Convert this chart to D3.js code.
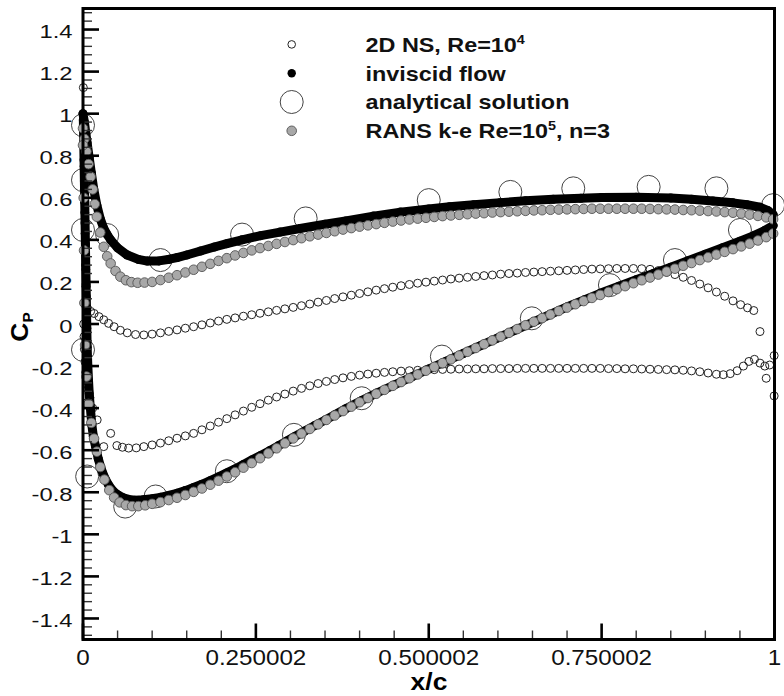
<!DOCTYPE html>
<html><head><meta charset="utf-8">
<script src="https://cdn.jsdelivr.net/npm/d3@7"></script>
<style>body{margin:0;background:#fff}svg{display:block}</style>
</head><body><svg id="c" width="784" height="696"></svg>
<script>
// ---------------- data ----------------
const xTicks = [0, 0.25, 0.5, 0.75, 1];
const xTickLabels = ["0", "0.250002", "0.500002", "0.750002", "1"];
const yTicks = [1.4, 1.2, 1, 0.8, 0.6, 0.4, 0.2, 0, -0.2, -0.4, -0.6, -0.8, -1, -1.2, -1.4];
const yTickLabels = ["1.4", "1.2", "1", "0.8", "0.6", "0.4", "0.2", "0", "-0.2", "-0.4", "-0.6", "-0.8", "-1", "-1.2", "-1.4"];
const seriesNames = ["2D NS, Re=10|4", "inviscid flow", "analytical solution", "RANS k-e Re=10|5|, n=3"];

// 2D NS, Re=1e4 : [x/c, Cp]
const nsUpper = [[0.0005,1.124],[0.001,0.97],[0.0012,0.86],[0.0015,0.75],[0.002,0.64],[0.0025,0.53],[0.003,0.43],[0.0035,0.34],[0.004,0.26],[0.0045,0.19],[0.005,0.13],[0.006,0.075],[0.011,0.06],[0.016,0.05],[0.023,0.035],[0.030,0.02],[0.037,0.003],[0.045,-0.013],[0.054,-0.03],[0.064,-0.042],[0.076,-0.05],[0.088,-0.052],
[0.100,-0.048],[0.112,-0.042],[0.124,-0.035],[0.136,-0.028],[0.148,-0.020],[0.160,-0.013],[0.172,-0.004],[0.184,0.005],[0.196,0.014],[0.208,0.022],[0.220,0.029],[0.232,0.037],[0.244,0.044],[0.256,0.051],[0.268,0.058],[0.280,0.065],[0.292,0.072],[0.304,0.079],[0.316,0.087],[0.328,0.095],[0.340,0.104],[0.352,0.112],[0.364,0.121],[0.376,0.129],[0.388,0.137],[0.400,0.145],[0.412,0.153],[0.424,0.161],[0.436,0.168],[0.448,0.175],[0.460,0.182],[0.472,0.188],[0.484,0.194],[0.496,0.199],[0.508,0.204],[0.520,0.209],[0.532,0.214],[0.544,0.218],[0.556,0.222],[0.568,0.226],[0.580,0.230],[0.592,0.233],[0.604,0.237],[0.616,0.240],[0.628,0.242],[0.640,0.245],[0.652,0.247],[0.664,0.249],[0.676,0.251],[0.688,0.253],[0.700,0.255],[0.712,0.257],[0.724,0.259],[0.736,0.261],[0.748,0.262],[0.760,0.263],[0.772,0.264],[0.784,0.264],[0.796,0.264],[0.808,0.263],[0.820,0.260],[0.832,0.254],[0.844,0.246],[0.856,0.235],[0.868,0.222],[0.880,0.207],[0.892,0.190],[0.904,0.172],[0.916,0.152],[0.928,0.132],[0.940,0.110],[0.951,0.092],[0.961,0.077],[0.970,0.064],[0.979,-0.036]];
const nsLower = [[0.001,0.0],[0.0015,-0.06],[0.002,-0.12],[0.003,-0.18],[0.004,-0.23],[0.005,-0.27],[0.007,-0.31],[0.010,-0.35],[0.014,-0.40],[0.0205,-0.456],[0.040,-0.52],[0.030,-0.583],[0.049,-0.578],[0.057,-0.586],[0.066,-0.59],[0.077,-0.589],[0.088,-0.583],
[0.100,-0.575],[0.112,-0.566],[0.124,-0.555],[0.136,-0.543],[0.148,-0.532],[0.160,-0.520],[0.172,-0.503],[0.184,-0.485],[0.196,-0.467],[0.208,-0.450],[0.220,-0.432],[0.232,-0.414],[0.244,-0.396],[0.256,-0.379],[0.268,-0.362],[0.280,-0.347],[0.292,-0.333],[0.304,-0.319],[0.316,-0.306],[0.328,-0.294],[0.340,-0.283],[0.352,-0.273],[0.364,-0.264],[0.376,-0.256],[0.388,-0.249],[0.400,-0.243],[0.412,-0.238],[0.424,-0.234],[0.436,-0.230],[0.448,-0.227],[0.460,-0.224],[0.472,-0.222],[0.484,-0.220],[0.496,-0.218],[0.508,-0.217],[0.520,-0.216],[0.532,-0.215],[0.544,-0.214],[0.556,-0.214],[0.568,-0.213],[0.580,-0.213],[0.592,-0.212],[0.604,-0.212],[0.616,-0.212],[0.628,-0.211],[0.640,-0.211],[0.652,-0.211],[0.664,-0.211],[0.676,-0.211],[0.688,-0.211],[0.700,-0.211],[0.712,-0.211],[0.724,-0.211],[0.736,-0.211],[0.748,-0.211],[0.760,-0.212],[0.772,-0.212],[0.784,-0.213],[0.796,-0.213],[0.808,-0.214],[0.820,-0.215],[0.832,-0.216],[0.844,-0.217],[0.856,-0.218],[0.868,-0.220],[0.880,-0.223],[0.892,-0.227],[0.904,-0.233],[0.916,-0.239],[0.926,-0.241],[0.936,-0.236],[0.946,-0.222],[0.955,-0.200],[0.963,-0.178],[0.971,-0.168],[0.979,-0.186],[0.986,-0.200],[0.993,-0.195],[0.9995,-0.150],[0.988,-0.258],[0.9995,-0.342]];

// inviscid flow
const invUpper = [[0.0,1.0],[0.002,0.96],[0.004,0.91],[0.006,0.86],[0.009,0.79],[0.012,0.72],[0.0156,0.64],[0.02,0.565],[0.025,0.5],[0.03,0.455],[0.035,0.425],[0.04,0.4],[0.05,0.362],[0.064,0.328],[0.08,0.307],[0.093,0.299],[0.11,0.3],[0.125,0.308],[0.136,0.316],[0.15,0.328],[0.17,0.347],[0.19,0.366],[0.208,0.382],[0.23,0.4],[0.257,0.42],[0.285,0.437],[0.314,0.454],[0.35,0.474],[0.38,0.49],[0.42,0.513],[0.459,0.532],[0.5,0.547],[0.53,0.557],[0.565,0.567],[0.603,0.577],[0.64,0.586],[0.68,0.593],[0.72,0.598],[0.75,0.601],[0.8,0.603],[0.85,0.599],[0.88,0.593],[0.911,0.585],[0.94,0.576],[0.96,0.567],[0.979,0.555],[0.99,0.54],[0.998,0.52]];
const invLower = [[0.0005,0.97],[0.001,0.88],[0.0015,0.78],[0.002,0.68],[0.0025,0.58],[0.003,0.48],[0.0035,0.38],[0.004,0.28],[0.0045,0.18],[0.005,0.08],[0.0055,-0.02],[0.006,-0.11],[0.007,-0.2],[0.008,-0.27],[0.009,-0.33],[0.0104,-0.39],[0.0128,-0.48],[0.015,-0.535],[0.018,-0.58],[0.022,-0.64],[0.027,-0.695],[0.032,-0.735],[0.037,-0.765],[0.043,-0.792],[0.05,-0.812],[0.058,-0.826],[0.066,-0.834],[0.075,-0.838],[0.087,-0.836],[0.1,-0.831],[0.112,-0.824],[0.124,-0.815],[0.136,-0.805],[0.148,-0.792],[0.16,-0.777],[0.172,-0.762],[0.184,-0.745],[0.196,-0.727],[0.208,-0.708],[0.22,-0.689],[0.232,-0.668],[0.244,-0.647],[0.257,-0.625],[0.27,-0.602],[0.283,-0.578],[0.295,-0.556],[0.305,-0.537],[0.32,-0.51],[0.335,-0.483],[0.35,-0.457],[0.365,-0.43],[0.38,-0.403],[0.403,-0.364],[0.425,-0.328],[0.45,-0.29],[0.475,-0.252],[0.5,-0.214],[0.525,-0.177],[0.55,-0.14],[0.575,-0.103],[0.6,-0.066],[0.625,-0.029],[0.651,0.009],[0.675,0.045],[0.7,0.081],[0.725,0.115],[0.748,0.146],[0.775,0.18],[0.8,0.21],[0.825,0.24],[0.85,0.27],[0.875,0.301],[0.9,0.332],[0.925,0.363],[0.95,0.394],[0.97,0.42],[0.985,0.443],[0.998,0.468]];

// analytical solution
const anaUpper = [[0.0,0.945],[0.0,0.684],[0.0,0.447],[0.035,0.423],[0.112,0.304],[0.23,0.425],[0.322,0.502],[0.5,0.589],[0.618,0.628],[0.709,0.645],[0.818,0.652],[0.916,0.645],[0.998,0.565]];
const anaLower = [[0.0,-0.123],[0.006,-0.725],[0.061,-0.868],[0.105,-0.82],[0.208,-0.70],[0.305,-0.527],[0.403,-0.353],[0.519,-0.155],[0.649,0.027],[0.762,0.185],[0.856,0.304],[0.95,0.447]];

// RANS k-e, Re=1e5, n=3
const ransUpper = [[0.0,0.93],[0.002,0.88],[0.005,0.82],[0.008,0.76],[0.011,0.70],[0.014,0.64],[0.017,0.57],[0.02,0.51],[0.025,0.435],[0.03,0.367],[0.035,0.322],[0.04,0.288],[0.047,0.252],[0.054,0.225],[0.062,0.208],[0.07,0.199],[0.079,0.196],[0.089,0.197],
[0.100,0.200],[0.112,0.209],[0.124,0.220],[0.136,0.232],[0.148,0.245],[0.160,0.258],[0.172,0.272],[0.184,0.286],[0.196,0.300],[0.208,0.313],[0.220,0.326],[0.232,0.338],[0.244,0.350],[0.256,0.361],[0.268,0.371],[0.280,0.381],[0.292,0.390],[0.304,0.399],[0.316,0.408],[0.328,0.417],[0.340,0.425],[0.352,0.433],[0.364,0.441],[0.376,0.449],[0.388,0.456],[0.400,0.463],[0.412,0.469],[0.424,0.475],[0.436,0.481],[0.448,0.487],[0.460,0.492],[0.472,0.497],[0.484,0.501],[0.496,0.505],[0.508,0.509],[0.520,0.513],[0.532,0.516],[0.544,0.519],[0.556,0.522],[0.568,0.525],[0.580,0.527],[0.592,0.530],[0.604,0.532],[0.616,0.534],[0.628,0.536],[0.640,0.538],[0.652,0.540],[0.664,0.541],[0.676,0.543],[0.688,0.544],[0.700,0.545],[0.712,0.546],[0.724,0.547],[0.736,0.548],[0.748,0.548],[0.760,0.548],[0.772,0.548],[0.784,0.548],[0.796,0.548],[0.808,0.548],[0.820,0.547],[0.832,0.546],[0.844,0.545],[0.856,0.544],[0.868,0.542],[0.880,0.541],[0.892,0.539],[0.904,0.537],[0.916,0.535],[0.928,0.532],[0.940,0.529],[0.952,0.525],[0.964,0.520],[0.976,0.514],[0.988,0.507],[0.998,0.498]];
const ransLower = [[0.0,0.85],[0.001,0.6],[0.0015,0.35],[0.002,0.1],[0.003,-0.1],[0.005,-0.25],[0.008,-0.38],[0.012,-0.47],[0.016,-0.545],[0.02,-0.607],[0.025,-0.68],[0.031,-0.74],[0.038,-0.79],[0.045,-0.825],[0.053,-0.848],[0.062,-0.861],[0.071,-0.866],[0.08,-0.866],[0.09,-0.862],
[0.100,-0.855],[0.112,-0.847],[0.124,-0.837],[0.136,-0.826],[0.148,-0.813],[0.160,-0.798],[0.172,-0.782],[0.184,-0.764],[0.196,-0.745],[0.208,-0.725],[0.220,-0.705],[0.232,-0.683],[0.244,-0.661],[0.256,-0.638],[0.268,-0.615],[0.280,-0.591],[0.292,-0.567],[0.304,-0.544],[0.316,-0.521],[0.328,-0.499],[0.340,-0.477],[0.352,-0.456],[0.364,-0.435],[0.376,-0.414],[0.388,-0.393],[0.400,-0.372],[0.412,-0.352],[0.424,-0.332],[0.436,-0.313],[0.448,-0.294],[0.460,-0.276],[0.472,-0.258],[0.484,-0.240],[0.496,-0.222],[0.508,-0.204],[0.520,-0.186],[0.532,-0.168],[0.544,-0.150],[0.556,-0.132],[0.568,-0.114],[0.580,-0.096],[0.592,-0.078],[0.604,-0.060],[0.616,-0.042],[0.628,-0.024],[0.640,-0.006],[0.652,0.011],[0.664,0.028],[0.676,0.045],[0.688,0.062],[0.700,0.078],[0.712,0.094],[0.724,0.109],[0.736,0.124],[0.748,0.138],[0.760,0.152],[0.772,0.166],[0.784,0.180],[0.796,0.194],[0.808,0.208],[0.820,0.221],[0.832,0.235],[0.844,0.249],[0.856,0.263],[0.868,0.277],[0.880,0.290],[0.892,0.304],[0.904,0.317],[0.916,0.330],[0.928,0.343],[0.940,0.356],[0.952,0.369],[0.964,0.382],[0.976,0.397],[0.988,0.413],[0.998,0.430]];

// ---------------- drawing ----------------
const svg = d3.select("#c");
const FONT = "'Liberation Sans', Arial, Helvetica, sans-serif";
const x = d3.scaleLinear().domain([0, 1]).range([83, 774.5]);
const y = d3.scaleLinear().domain([-1.5, 1.5]).range([639.5, 8.5]);

const gData = svg.append("g");
function dots(data, r, fill, stroke, sw) {
  gData.append("g").selectAll("circle").data(data).join("circle")
    .attr("cx", d => x(d[0])).attr("cy", d => y(d[1])).attr("r", r)
    .attr("fill", fill).attr("stroke", stroke).attr("stroke-width", sw);
}
// analytical (large open)
dots(anaUpper.concat(anaLower), 11.5, "none", "#444", 1);
// 2D NS (small open)
dots(nsUpper.concat(nsLower), 4, "none", "#222", 1);
// inviscid (dense black markers)
const line = d3.line().x(d => x(d[0])).y(d => y(d[1]));
[invUpper, invLower].forEach(s => {
  gData.append("path").attr("d", line(s)).attr("fill", "none")
    .attr("stroke", "#000").attr("stroke-width", 9)
    .attr("stroke-linecap", "round").attr("stroke-linejoin", "round");
});
dots(invUpper.concat(invLower), 4.5, "#000", "none", 0);
// RANS (gray filled)
dots(ransUpper.concat(ransLower), 4.8, "#a8a8a8", "#555", 0.9);

// ---------------- axes ----------------
const gAx = svg.append("g");
const yMinor = d3.range(-37, 38).map(k => k * 0.04).filter(v => Math.abs(v / 0.2 - Math.round(v / 0.2)) > 1e-6);
const xMinor = d3.range(1, 20).map(k => k * 0.05).filter(v => Math.abs(v / 0.25 - Math.round(v / 0.25)) > 1e-6);
const x0 = x(0), yb = y(-1.5);
gAx.selectAll(".ymn").data(yMinor).join("line")
  .attr("x1", x0).attr("x2", x0 + 9).attr("y1", d => y(d)).attr("y2", d => y(d))
  .attr("stroke", "#333").attr("stroke-width", 1.4);
gAx.selectAll(".ymj").data(yTicks).join("line")
  .attr("x1", x0).attr("x2", x0 + 16).attr("y1", d => y(d)).attr("y2", d => y(d))
  .attr("stroke", "#000").attr("stroke-width", 2.6);
gAx.selectAll(".xmn").data(xMinor).join("line")
  .attr("x1", d => x(d)).attr("x2", d => x(d)).attr("y1", yb).attr("y2", yb - 9)
  .attr("stroke", "#333").attr("stroke-width", 1.4);
gAx.selectAll(".xmj").data(xTicks).join("line")
  .attr("x1", d => x(d)).attr("x2", d => x(d)).attr("y1", yb).attr("y2", yb - 16)
  .attr("stroke", "#000").attr("stroke-width", 2.6);
// frame
gAx.append("rect").attr("x", x(0)).attr("y", y(1.5))
  .attr("width", x(1) - x(0)).attr("height", y(-1.5) - y(1.5))
  .attr("fill", "none").attr("stroke", "#000").attr("stroke-width", 3);

// tick labels
gAx.selectAll(".yl").data(yTicks).join("text")
  .attr("transform", d => `translate(72.5,${y(d) + 8.5}) scale(1.25,1)`)
  .attr("text-anchor", "end").attr("font-family", FONT).attr("font-size", 19)
  .attr("fill", "#111").text((d, i) => yTickLabels[i]);
gAx.selectAll(".xl").data(xTicks).join("text")
  .attr("transform", d => `translate(${x(d)},665) scale(1.1,1)`)
  .attr("text-anchor", "middle").attr("font-family", FONT).attr("font-size", 22)
  .attr("fill", "#111").text((d, i) => xTickLabels[i]);

// axis titles
svg.append("text").attr("transform", "translate(429,690) scale(1.15,1)")
  .attr("text-anchor", "middle").attr("font-family", FONT).attr("font-weight", "bold")
  .attr("font-size", 23).text("x/c");
const cp = svg.append("text").attr("transform", "translate(28,327) rotate(-90) scale(1.1,1)")
  .attr("text-anchor", "middle").attr("font-family", FONT).attr("font-weight", "bold")
  .attr("font-size", 24);
cp.append("tspan").text("C");
cp.append("tspan").attr("font-size", 14).attr("dy", 5).text("P");

// ---------------- legend ----------------
const legY = [51.7, 80.5, 109.3, 138.1];
const legSym = [
  {r: 3.8, fill: "none", stroke: "#222", sw: 1},
  {r: 4.2, fill: "#000", stroke: "none", sw: 0},
  {r: 11.5, fill: "none", stroke: "#444", sw: 1},
  {r: 4.8, fill: "#a8a8a8", stroke: "#555", sw: 0.9}
];
const gL = svg.append("g");
seriesNames.forEach((name, i) => {
  const s = legSym[i];
  gL.append("circle").attr("cx", 291.7).attr("cy", legY[i] - 7.3).attr("r", s.r)
    .attr("fill", s.fill).attr("stroke", s.stroke).attr("stroke-width", s.sw);
  const t = gL.append("text").attr("transform", `translate(365.5,${legY[i]}) scale(1.2,1)`)
    .attr("font-family", FONT).attr("font-weight", "bold").attr("font-size", 19.5).attr("fill", "#111");
  const parts = name.split("|");
  parts.forEach((p, k) => {
    if (k % 2 === 1) t.append("tspan").attr("font-size", 12).attr("dy", -8).text(p);
    else t.append("tspan").attr("dy", k === 0 ? 0 : 8).text(p);
  });
});
</script></body></html>
